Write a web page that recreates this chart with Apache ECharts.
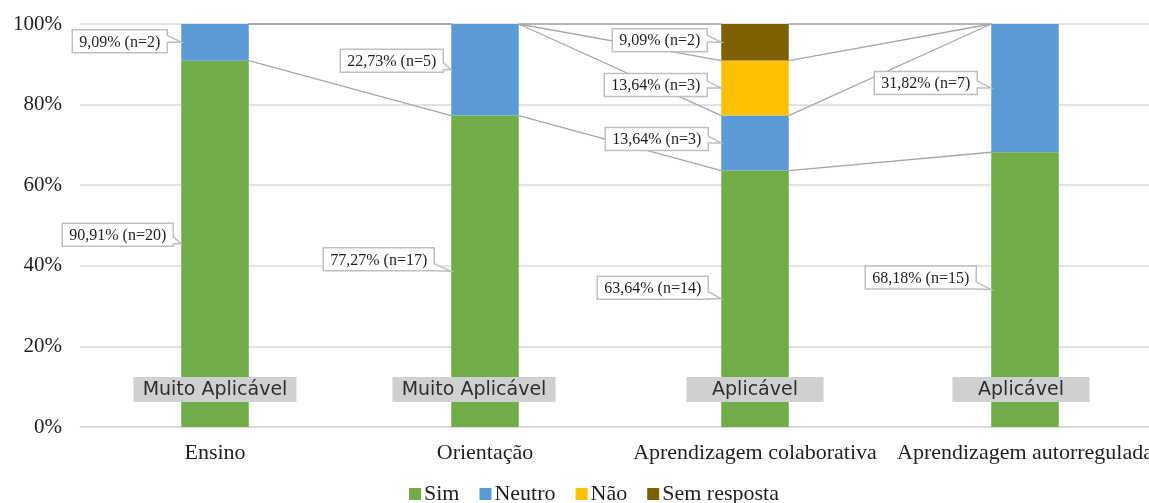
<!DOCTYPE html>
<html>
<head>
<meta charset="utf-8">
<script src="https://cdn.jsdelivr.net/npm/echarts@6/dist/echarts.min.js"></script>
<style>
  html, body { margin: 0; padding: 0; background: #ffffff; }
  #chart { width: 1149px; height: 503px; }
</style>
</head>
<body>
<div id="chart"></div>
<script>
// Categories and response shares (percent of 22 respondents)
const categories = ['Ensino', 'Orientação', 'Aprendizagem colaborativa', 'Aprendizagem autorregulada'];
const seriesNames = ['Sim', 'Neutro', 'Não', 'Sem resposta'];
const simPct = [90.91, 77.27, 63.64, 68.18];
const neutroPct = [9.09, 22.73, 13.64, 31.82];
const naoPct = [0, 0, 13.64, 0];
const semRespostaPct = [0, 0, 9.09, 0];
// Respondent counts for each share
const simN = [20, 17, 14, 15];
const neutroN = [2, 5, 3, 7];
const naoN = [0, 0, 3, 0];
const semRespostaN = [0, 0, 2, 0];
// Applicability tag printed over each column
const applicability = ['Muito Aplicável', 'Muito Aplicável', 'Aplicável', 'Aplicável'];
const yTickValues = [0, 20, 40, 60, 80, 100];

// ---- styling / layout ----
const colors = ['#70AD47', '#5B9BD5', '#FFC000', '#7F6000'];
const serif = 'Liberation Serif';
const BAR_RATIO = 0.25;
// callout placement per column/series: [gap to bar, vertical shift]
const calloutShift = [
  [[8, -9], [14, -1], null, null],
  [[17, -12], [8, -9], null, null],
  [[13, -11], [13, -4], [14, -3], [14, -2]],
  [[15, -12], [14, -5], null, null]
];
const tagWidth = [163, 163, 137, 137];
const tagShiftX = [0, -11, 0, -4];

const pctSets = [simPct, neutroPct, naoPct, semRespostaPct];
const countSets = [simN, neutroN, naoN, semRespostaN];

const measureCtx = document.createElement('canvas').getContext('2d');
function textWidth(str, font) {
  measureCtx.font = font;
  return measureCtx.measureText(str).width;
}
function fmtPct(v) {
  return v.toFixed(2).replace('.', ',') + '%';
}
function cumulativeTop(s, i) {
  let t = 0;
  for (let k = 0; k <= s; k++) t += pctSets[k][i];
  return t;
}

// Connector lines between adjacent stacks
function renderSeriesLines(params, api) {
  const i = api.value(0);
  const band = api.size([1, 0])[0];
  const half = band * BAR_RATIO / 2;
  const x1 = api.coord([i, 0])[0] + half;
  const x2 = api.coord([i + 1, 0])[0] - half;
  const children = [];
  for (let s = 0; s < seriesNames.length; s++) {
    const y1 = api.coord([i, Math.min(cumulativeTop(s, i), 100)])[1];
    const y2 = api.coord([i + 1, Math.min(cumulativeTop(s, i + 1), 100)])[1];
    children.push({
      type: 'line',
      shape: { x1: x1, y1: y1, x2: x2, y2: y2 },
      style: { stroke: '#A6A6A6', lineWidth: 1.3 }
    });
  }
  return { type: 'group', children: children };
}

// Value callouts (box with wedge pointing at the segment)
function renderCallouts(params, api) {
  const i = api.value(0);
  const band = api.size([1, 0])[0];
  const tipX = api.coord([i, 0])[0] - band * BAR_RATIO / 2;
  const font = '16px "' + serif + '"';
  const children = [];
  let base = 0;
  for (let s = 0; s < seriesNames.length; s++) {
    const v = pctSets[s][i];
    if (v > 0 && calloutShift[i][s]) {
      const tipY = api.coord([i, base + v / 2])[1];
      const txt = fmtPct(v) + ' (n=' + countSets[s][i] + ')';
      const gap = calloutShift[i][s][0];
      const dy = calloutShift[i][s][1];
      const w = Math.round(textWidth(txt, font) + 14);
      const h = 23;
      const right = tipX - gap;
      const left = right - w;
      const top = tipY + dy - h / 2;
      const bottom = top + h;
      const b2 = Math.min(bottom, Math.max(top + 8, tipY));
      const b1 = b2 - 7;
      children.push({
        type: 'polygon',
        shape: { points: [[left, top], [right, top], [right, b1], [tipX, tipY], [right, b2], [right, bottom], [left, bottom]] },
        style: { fill: '#ffffff', stroke: '#BFBFBF', lineWidth: 1.5 }
      });
      children.push({
        type: 'text',
        style: {
          x: left + w / 2, y: top + h / 2 + 1, text: txt,
          fill: '#1f1f1f', fontSize: 16, fontFamily: serif,
          align: 'center', verticalAlign: 'middle'
        }
      });
    }
    base += v;
  }
  return { type: 'group', children: children };
}

// Grey applicability tags near the column base
function renderTags(params, api) {
  const i = api.value(0);
  const p = api.coord([i, 0]);
  const cx = p[0] + tagShiftX[i];
  const cy = p[1] - 37.5;
  const w = tagWidth[i], h = 25;
  return {
    type: 'group',
    children: [
      { type: 'rect', shape: { x: cx - w / 2, y: cy - h / 2, width: w, height: h }, style: { fill: '#CFD0D2' } },
      { type: 'text', style: { x: cx, y: cy + 1, text: applicability[i], fill: '#2e2e2e', fontSize: 19, fontFamily: 'DejaVu Sans', align: 'center', verticalAlign: 'middle' } }
    ]
  };
}

const barSeries = seriesNames.map(function (name, s) {
  return {
    name: name,
    type: 'bar',
    stack: 'total',
    barWidth: (BAR_RATIO * 100) + '%',
    itemStyle: { color: colors[s] },
    z: 3,
    data: pctSets[s]
  };
});

const chart = echarts.init(document.getElementById('chart'), null, { renderer: 'canvas' });
chart.setOption({
  animation: false,
  backgroundColor: '#ffffff',
  color: colors,
  grid: { left: 80, width: 1080, top: 24, bottom: 76, containLabel: false, outerBoundsMode: 'none' },
  legend: {
    data: seriesNames,
    left: 404,
    top: 478,
    icon: 'rect',
    itemWidth: 12,
    itemHeight: 12,
    itemGap: 20,
    selectedMode: false,
    textStyle: { fontFamily: serif, fontSize: 22, color: '#1f1f1f', padding: [0, 0, 0, -2] }
  },
  xAxis: {
    type: 'category',
    data: categories,
    axisLine: { show: true, lineStyle: { color: '#D9D9D9', width: 1.5 } },
    axisTick: { show: false },
    axisLabel: { interval: 0, margin: 15, fontFamily: serif, fontSize: 22, color: '#1f1f1f' }
  },
  yAxis: {
    type: 'value',
    min: yTickValues[0],
    max: yTickValues[yTickValues.length - 1],
    interval: yTickValues[1] - yTickValues[0],
    axisLine: { show: false },
    axisTick: { show: false },
    splitLine: { lineStyle: { color: '#D9D9D9', width: 1.5 } },
    axisLabel: { formatter: '{value}%', margin: 18, fontFamily: serif, fontSize: 21, color: '#1f1f1f' }
  },
  series: barSeries.concat([
    {
      name: 'seriesLines',
      type: 'custom',
      renderItem: renderSeriesLines,
      data: categories.slice(0, -1).map(function (c, i) { return [i]; }),
      encode: { x: 0 },
      z: 2,
      silent: true
    },
    {
      name: 'callouts',
      type: 'custom',
      renderItem: renderCallouts,
      data: categories.map(function (c, i) { return [i]; }),
      encode: { x: 0 },
      z: 6,
      silent: true
    },
    {
      name: 'tags',
      type: 'custom',
      renderItem: renderTags,
      data: categories.map(function (c, i) { return [i]; }),
      encode: { x: 0 },
      z: 6,
      silent: true
    }
  ])
});
</script>
</body>
</html>
